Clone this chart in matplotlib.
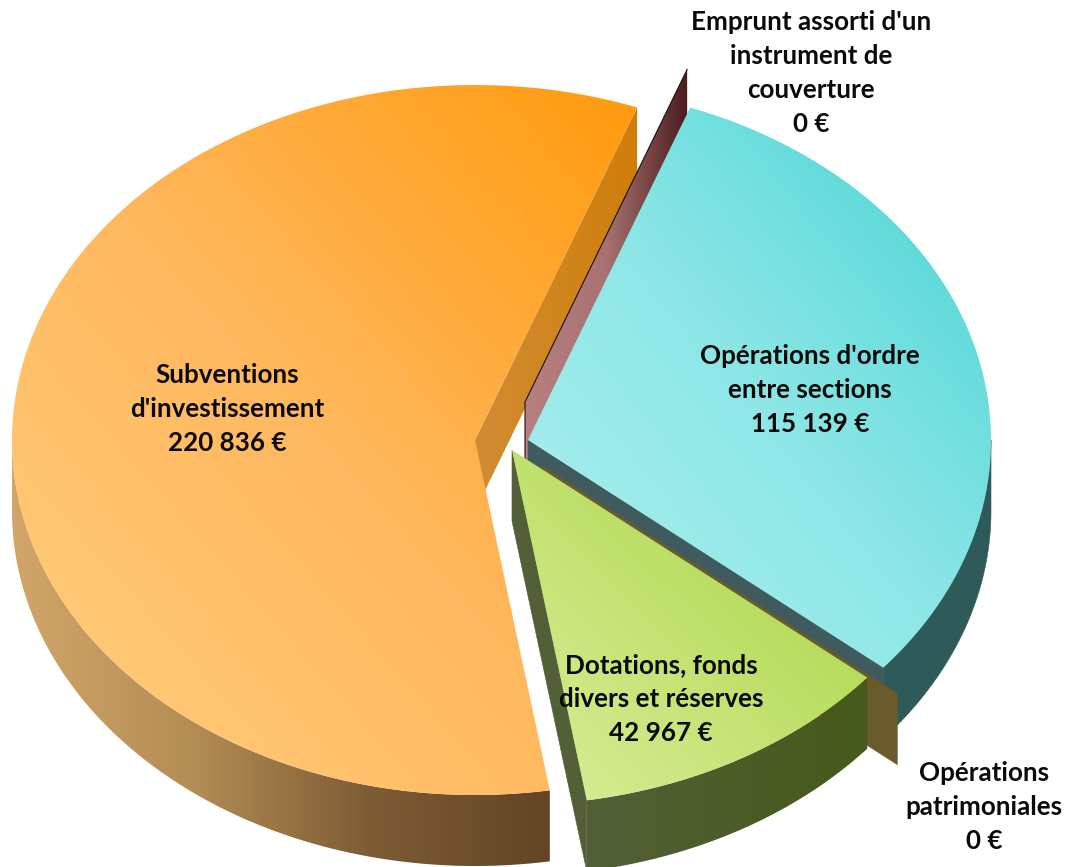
import numpy as np
import matplotlib
matplotlib.use("Agg")
import matplotlib.pyplot as plt
from matplotlib.path import Path
from matplotlib.patches import PathPatch
from matplotlib.colors import LinearSegmentedColormap

# ---- data
categories = ["Emprunt assorti d'un\ninstrument de\ncouverture",
              "Opérations d'ordre\nentre sections",
              "Opérations\npatrimoniales",
              "Dotations, fonds\ndivers et réserves",
              "Subventions\nd'investissement"]
values = [0, 115139, 0, 42967, 220836]
value_labels = ["0 €", "115 139 €", "0 €", "42 967 €", "220 836 €"]

# ---- layout / style
W, H = 1071, 867
RX, RY, DEPTH = 463, 355, 71
START = 20.5
centers = [(525, 402), (528, 440), (542, 466), (512, 450), (475, 440)]
label_pos = [(811, 73), (810, 390), (984, 807), (661, 699), (227, 409)]
top_cols = [None, ("#b0f0f0", "#8ce6e6", "#46d3d3"), None, ("#dcee9c", "#a4d43e"),
            ("#ffcf80", "#ffb85e", "#ff9a0c")]

plt.rcParams["font.family"] = ["Lato", "DejaVu Sans"]
fig = plt.figure(figsize=(W / 100, H / 100), dpi=100)
ax = fig.add_axes([0, 0, 1, 1])
ax.set_xlim(0, W)
ax.set_ylim(H, 0)
ax.axis("off")

fracs = np.array(values) / sum(values)
edges = START + 360 * np.concatenate([[0], np.cumsum(fracs)])


def pt(c, deg):
    a = np.radians(deg)
    return np.array([c[0] + RX * np.sin(a), c[1] - RY * np.cos(a)])


def arc(c, a0, a1):
    t = np.radians(np.linspace(a0, a1, 200))
    return np.c_[c[0] + RX * np.sin(t), c[1] - RY * np.cos(t)]


def down(p):
    return np.asarray(p) + np.array([0, DEPTH])


def grad(poly, cols, mode, z):
    """fill a polygon with a clipped gradient; mode 'h' or 'd' (lower-left to upper-right)"""
    poly = np.asarray(poly)
    x0, y0 = poly.min(0)
    x1, y1 = poly.max(0)
    n = 256
    xx, yy = np.meshgrid(np.linspace(0, 1, n), np.linspace(0, 1, n))
    g = xx if mode == "h" else (xx + (1 - yy)) / 2
    cmap = LinearSegmentedColormap.from_list("g", cols)
    im = ax.imshow(g, extent=(x0, x1, y1, y0), cmap=cmap, vmin=0, vmax=1,
                   interpolation="bilinear", aspect="auto", zorder=z, origin="upper")
    patch = PathPatch(Path(np.vstack([poly, poly[:1]])), fc="none", ec="none", zorder=z)
    ax.add_patch(patch)
    im.set_clip_path(patch)


def flat(poly, col, z, **kw):
    ax.fill(*np.asarray(poly).T, color=col, lw=0.4, zorder=z, **kw)


def wall(c, deg):
    rim = pt(c, deg)
    return np.array([c, rim, down(rim), down(c)])


def side(c, a0, a1):
    r = arc(c, a0, a1)
    return np.vstack([r, down(r)[::-1]])


def sector(c, a0, a1):
    return np.vstack([[c], arc(c, a0, a1)])


# Subventions
c = centers[4]
a0, a1 = edges[4], edges[5]
grad(side(c, a0, 270), ["#d2a669", "#b48d55", "#7d5c35", "#634424"], "h", 1)
grad(wall(c, a1), ["#d18c34", "#cf7e0a"], "h", 2)
grad(sector(c, a0, a1), top_cols[4], "d", 3)

# Emprunt: zero-width slice, wall only
c = centers[0]
w = wall(c, edges[0])
grad(w, ["#b88080", "#a87272", "#4a1c1e"], "h", 4)
ax.plot(*np.array([down(c), c, pt(c, edges[0])]).T, color="#1a1010", lw=0.8, zorder=4)

# Opérations d'ordre
c = centers[1]
a0, a1 = edges[1], edges[2]
flat(side(c, 90, a1), "#2e5a5a", 5)
flat(wall(c, a1), "#3f5b5d", 6)
grad(sector(c, a0, a1), top_cols[1], "d", 7)

# Opérations patrimoniales: zero-width slice, wall only
c = centers[2]
flat(wall(c, edges[2]), "#6b5a2c", 8)

# Dotations
c = centers[3]
a0, a1 = edges[3], edges[4]
flat(wall(c, a1), "#535f37", 9)
grad(side(c, a0, a1), ["#525f38", "#465a1a"], "h", 9)
grad(sector(c, a0, a1), top_cols[3], "d", 10)

# Labels
for name, val, (x, y) in zip(categories, value_labels, label_pos):
    ax.text(x, y, name + "\n" + val, ha="center", va="center", ma="center",
            fontsize=18.7, fontweight="bold", color="#0a0a0a", linespacing=1.5, zorder=20)

ax.set_xlim(0, W)
ax.set_ylim(H, 0)
fig.savefig("out.png", dpi=100, facecolor="white")
